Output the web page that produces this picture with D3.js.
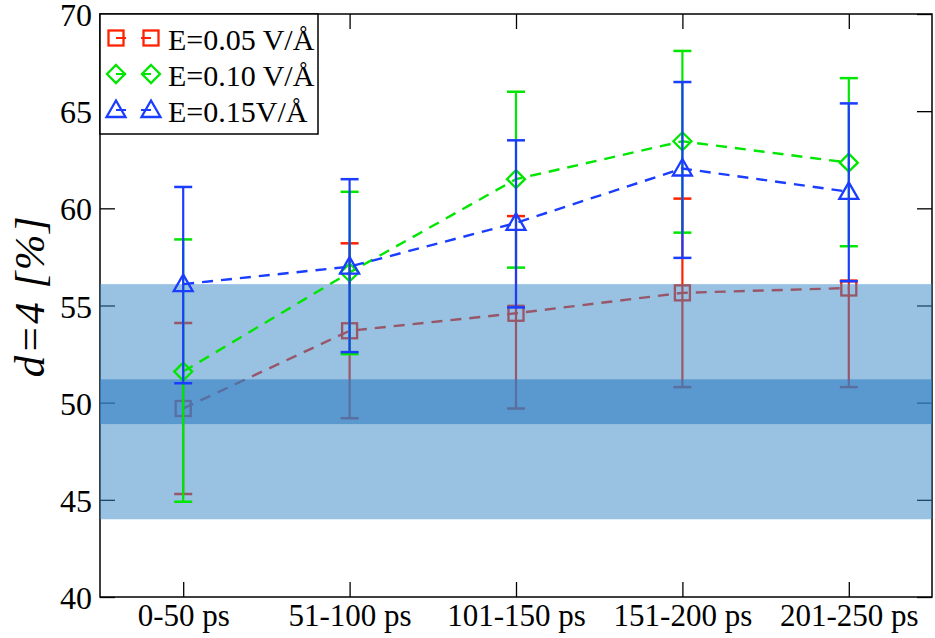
<!DOCTYPE html>
<html>
<head>
<meta charset="utf-8">
<script src="https://cdn.jsdelivr.net/npm/d3@7"></script>
<style>
  body { margin: 0; background: #fff; }
  svg { display: block; }
</style>
</head>
<body>
<div id="chart"></div>
<script>
// time windows on the x axis
const categories = ["0-50 ps", "51-100 ps", "101-150 ps", "151-200 ps", "201-250 ps"];
const yTicks = [40, 45, 50, 55, 60, 65, 70];

// E = 0.05 V/A
const e005 = [49.7, 53.7, 54.6, 55.65, 55.9];
const e005Lo = [45.3, 49.2, 49.7, 50.8, 50.8];
const e005Hi = [54.1, 58.2, 59.6, 60.5, 56.25];
// E = 0.10 V/A
const e010 = [51.6, 56.7, 61.5, 63.45, 62.35];
const e010Lo = [44.9, 52.5, 56.95, 58.75, 58.05];
const e010Hi = [58.4, 60.85, 66.0, 68.1, 66.7];
// E = 0.15 V/A
const e015 = [56.1, 57.0, 59.25, 62.05, 60.85];
const e015Lo = [51.0, 52.6, 54.9, 57.45, 56.25];
const e015Hi = [61.1, 61.5, 63.5, 66.5, 65.4];

// reference ranges (shaded)
const outerBand = [44.0, 56.1];
const innerBand = [48.9, 51.2];

const W = 935, H = 638;
const margin = { top: 14, right: 3, bottom: 41, left: 100 };

const svg = d3.select("#chart").append("svg")
    .attr("width", W)
    .attr("height", H);

const x = d3.scalePoint()
    .domain(categories)
    .range([margin.left, W - margin.right])
    .padding(0.5);

const y = d3.scaleLinear()
    .domain([40, 70])
    .range([H - margin.bottom, margin.top]);

const serif = '"Liberation Serif", "Times New Roman", serif';

// axes, ticks inward on all four sides
const tick = 15;
svg.append("g")
    .attr("transform", `translate(${margin.left},0)`)
    .call(d3.axisLeft(y).tickValues(yTicks).tickSize(-tick).tickSizeOuter(0).tickPadding(8))
    .call(g => g.selectAll("text").style("font-family", serif).style("font-size", "32px").attr("dy", "0.36em").attr("fill", "#000"));
svg.append("g")
    .attr("transform", `translate(${W - margin.right},0)`)
    .call(d3.axisRight(y).tickValues(yTicks).tickSize(-tick).tickSizeOuter(0).tickFormat(""));
svg.append("g")
    .attr("transform", `translate(0,${H - margin.bottom})`)
    .call(d3.axisBottom(x).tickSize(-tick).tickSizeOuter(0).tickPadding(7))
    .call(g => g.selectAll("text").style("font-family", serif).style("font-size", "31px").attr("fill", "#000"));
svg.append("g")
    .attr("transform", `translate(0,${margin.top})`)
    .call(d3.axisTop(x).tickSize(-tick).tickSizeOuter(0).tickFormat(""));
svg.selectAll(".domain").remove();
svg.selectAll(".tick line").attr("stroke", "#000").attr("stroke-width", 1.3);

svg.append("rect")
    .attr("x", margin.left).attr("y", margin.top)
    .attr("width", W - margin.left - margin.right)
    .attr("height", H - margin.top - margin.bottom)
    .attr("fill", "none").attr("stroke", "#000").attr("stroke-width", 1.5);

// y label
svg.append("text")
    .attr("transform", `translate(44,296) rotate(-90)`)
    .attr("text-anchor", "middle")
    .style("font-family", serif)
    .style("font-style", "italic")
    .style("font-size", "43px")
    .style("letter-spacing", "1.5px")
    .text("d=4 [%]");

function marker(sel, shape, color) {
    if (shape === "square") {
        sel.append("rect").attr("x", -7.5).attr("y", -7.5).attr("width", 15).attr("height", 15)
            .attr("fill", "none").attr("stroke", color).attr("stroke-width", 2.3);
    } else if (shape === "diamond") {
        sel.append("path").attr("d", "M0,-9L9,0L0,9L-9,0Z")
            .attr("fill", "none").attr("stroke", color).attr("stroke-width", 2.3);
    } else {
        sel.append("path").attr("d", "M0,-9.5L9.5,7L-9.5,7Z")
            .attr("fill", "none").attr("stroke", color).attr("stroke-width", 2.3);
    }
}

function drawSeries(vals, lo, hi, color, shape) {
    const g = svg.append("g");
    const pts = categories.map((c, i) => ({ c, v: vals[i], lo: lo[i], hi: hi[i] }));
    const eb = g.selectAll(".eb").data(pts).enter().append("g");
    eb.append("line")
        .attr("x1", d => x(d.c)).attr("x2", d => x(d.c))
        .attr("y1", d => y(d.lo)).attr("y2", d => y(d.hi))
        .attr("stroke", color).attr("stroke-width", 2.2);
    ["lo", "hi"].forEach(k => {
        eb.append("line")
            .attr("x1", d => x(d.c) - 9).attr("x2", d => x(d.c) + 9)
            .attr("y1", d => y(d[k])).attr("y2", d => y(d[k]))
            .attr("stroke", color).attr("stroke-width", 2.5);
    });
    g.append("path")
        .datum(pts)
        .attr("fill", "none")
        .attr("stroke", color)
        .attr("stroke-width", 2.4)
        .attr("stroke-dasharray", "11,8")
        .attr("d", d3.line().x(d => x(d.c)).y(d => y(d.v)));
    g.selectAll(".m").data(pts).enter().append("g")
        .attr("transform", d => `translate(${x(d.c)},${y(d.v)})`)
        .each(function () { marker(d3.select(this), shape, color); });
}

const red = "#ff2200", green = "#00e600", blue = "#1a3dff";

drawSeries(e005, e005Lo, e005Hi, red, "square");

// translucent shaded bands drawn over the first set
svg.append("rect")
    .attr("x", margin.left).attr("width", W - margin.left - margin.right)
    .attr("y", y(outerBand[1])).attr("height", y(outerBand[0]) - y(outerBand[1]))
    .attr("fill", "#3a88c8").attr("fill-opacity", 0.52);
svg.append("rect")
    .attr("x", margin.left).attr("width", W - margin.left - margin.right)
    .attr("y", y(innerBand[1])).attr("height", y(innerBand[0]) - y(innerBand[1]))
    .attr("fill", "#2f7fc4").attr("fill-opacity", 0.6);

drawSeries(e010, e010Lo, e010Hi, green, "diamond");
drawSeries(e015, e015Lo, e015Hi, blue, "triangle");

// legend
const legendItems = [
    { label: "E=0.05 V/Å", color: red, shape: "square" },
    { label: "E=0.10 V/Å", color: green, shape: "diamond" },
    { label: "E=0.15V/Å", color: blue, shape: "triangle" }
];
const lg = svg.append("g");
lg.append("rect")
    .attr("x", margin.left).attr("y", margin.top)
    .attr("width", 218).attr("height", 120)
    .attr("fill", "#fff").attr("stroke", "#000").attr("stroke-width", 1.5);
const row = lg.selectAll(".row").data(legendItems).enter().append("g")
    .attr("transform", (d, i) => `translate(0,${38 + i * 36})`);
row.append("line")
    .attr("x1", 116).attr("x2", 151).attr("y1", 0).attr("y2", 0)
    .attr("stroke", d => d.color).attr("stroke-width", 2.2)
    .attr("stroke-dasharray", "10,15");
row.each(function (d) {
    const r = d3.select(this);
    marker(r.append("g").attr("transform", "translate(116,0)"), d.shape, d.color);
    marker(r.append("g").attr("transform", "translate(151,0)"), d.shape, d.color);
});
row.append("text")
    .attr("x", 168).attr("y", 12)
    .style("font-family", serif)
    .style("font-size", "30px")
    .text(d => d.label);
</script>
</body>
</html>
